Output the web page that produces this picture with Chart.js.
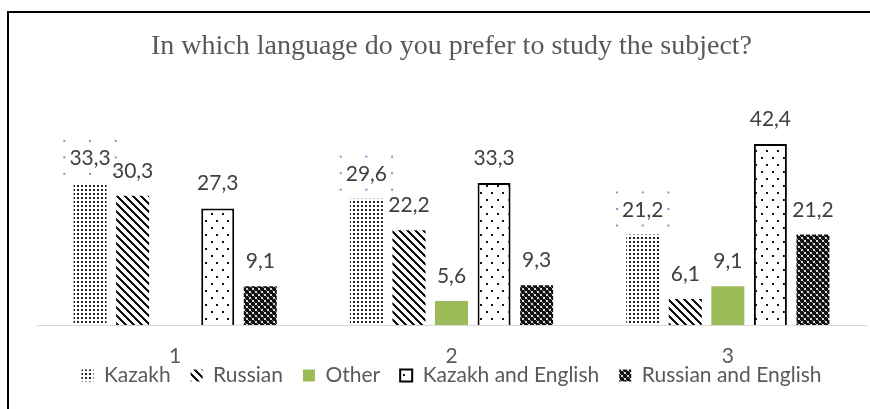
<!DOCTYPE html>
<html>
<head>
<meta charset="utf-8">
<script src="https://cdn.jsdelivr.net/npm/chart.js@4.4.1/dist/chart.umd.min.js"></script>
<style>
  html, body { margin: 0; padding: 0; background: #fff; }
</style>
</head>
<body>
<canvas id="chart" width="870" height="409"></canvas>
<script>
const groups = ['1', '2', '3'];
const kazakh = [33.3, 29.6, 21.2];
const russian = [30.3, 22.2, 6.1];
const other = [null, 5.6, 9.1];
const kazakhEnglish = [27.3, 33.3, 42.4];
const russianEnglish = [9.1, 9.3, 21.2];
const seriesNames = ['Kazakh', 'Russian', 'Other', 'Kazakh and English', 'Russian and English'];

// little tiles for the Excel-like fills
function makePattern(w, h, paint) {
    const c = document.createElement('canvas');
    c.width = w;
    c.height = h;
    const g = c.getContext('2d');
    paint(g, w, h);
    return g.createPattern(c, 'repeat');
}

const dotFill = makePattern(4, 4, (g) => {
    g.fillStyle = '#fff';
    g.fillRect(0, 0, 4, 4);
    g.fillStyle = '#222';
    g.fillRect(1, 1, 2, 2);
});

const stripeFill = makePattern(8, 8, (g) => {
    g.fillStyle = '#fff';
    g.fillRect(0, 0, 8, 8);
    g.fillStyle = '#111';
    for (let x = 0; x < 8; x++) {
        for (let y = 0; y < 8; y++) {
            if ((((x - y) % 8) + 8) % 8 < 3) g.fillRect(x, y, 1, 1);
        }
    }
});

const sparseDots = makePattern(11, 14, (g) => {
    g.fillStyle = '#fff';
    g.fillRect(0, 0, 11, 14);
    g.fillStyle = '#111';
    g.fillRect(2, 3, 2, 2);
    g.fillRect(7, 10, 2, 2);
});

const darkCheck = makePattern(6, 6, (g) => {
    g.fillStyle = '#111';
    g.fillRect(0, 0, 6, 6);
    g.fillStyle = '#d8d8d8';
    g.fillRect(0, 0, 2, 2);
    g.fillRect(3, 3, 2, 2);
    g.fillStyle = '#888';
    g.fillRect(2, 2, 1, 1);
    g.fillRect(5, 5, 1, 1);
});

const frame = {
    id: 'frame',
    beforeDraw(chart) {
        const ctx = chart.ctx;
        ctx.save();
        ctx.fillStyle = '#fff';
        ctx.fillRect(0, 0, chart.width, chart.height);
        ctx.restore();
    },
    afterDraw(chart) {
        const ctx = chart.ctx;
        ctx.save();
        ctx.fillStyle = '#000';
        ctx.fillRect(7, 11, 2, chart.height - 11);
        ctx.fillRect(7, 11, chart.width - 7, 2);
        ctx.restore();
    }
};

// category names sit lower than the axis box, overlapping the legend row
const groupLabels = {
    id: 'groupLabels',
    afterDraw(chart) {
        const ctx = chart.ctx;
        const xs = chart.scales.x;
        ctx.save();
        ctx.font = '21px Lato';
        ctx.fillStyle = '#595959';
        ctx.textAlign = 'center';
        ctx.textBaseline = 'middle';
        groups.forEach((g, i) => {
            ctx.fillText(g, xs.getPixelForValue(i), xs.top + 31);
        });
        ctx.restore();
    }
};

const valueLabels = {
    id: 'valueLabels',
    afterDatasetsDraw(chart) {
        const ctx = chart.ctx;
        ctx.save();
        ctx.font = '21px Lato';
        ctx.textAlign = 'center';
        ctx.textBaseline = 'alphabetic';
        chart.data.datasets.forEach((ds, i) => {
            const meta = chart.getDatasetMeta(i);
            meta.data.forEach((bar, j) => {
                const v = ds.data[j];
                if (v === null) return;
                const txt = v.toFixed(1).replace('.', ',');
                const y = bar.y - 18;
                ctx.fillStyle = '#404040';
                ctx.fillText(txt, bar.x, y);
                if (i === 0) {
                    // selection handles left around the Kazakh labels
                    ctx.fillStyle = '#6f9fd8';
                    const w = ctx.measureText(txt).width;
                    const l = bar.x - w / 2 - 5, r = bar.x + w / 2 + 5;
                    const t = y - 24, b = y + 9;
                    [[l, t], [bar.x, t], [r, t], [l, (t + b) / 2], [r, (t + b) / 2], [l, b], [bar.x, b], [r, b]]
                        .forEach(p => ctx.fillRect(p[0] - 1, p[1] - 1, 2, 2));
                }
            });
        });
        ctx.restore();
    }
};

new Chart(document.getElementById('chart'), {
    type: 'bar',
    data: {
        labels: groups,
        datasets: [
            { label: seriesNames[0], data: kazakh, backgroundColor: dotFill, borderWidth: 0 },
            { label: seriesNames[1], data: russian, backgroundColor: stripeFill, borderWidth: 0 },
            { label: seriesNames[2], data: other, backgroundColor: '#9bbb59', borderWidth: 0 },
            { label: seriesNames[3], data: kazakhEnglish, backgroundColor: sparseDots, borderColor: '#000', borderWidth: 2 },
            { label: seriesNames[4], data: russianEnglish, backgroundColor: darkCheck, borderWidth: 0 }
        ]
    },
    options: {
        responsive: false,
        animation: false,
        categoryPercentage: 0.77,
        barPercentage: 0.775,
        layout: {
            padding: { left: 37, right: 4, top: 0, bottom: 13 }
        },
        scales: {
            x: {
                grid: { display: false, drawTicks: false },
                border: { display: true, color: '#d9d9d9', width: 1 },
                ticks: { display: false },
                afterFit(scale) {
                    scale.height = 20;
                }
            },
            y: {
                display: false,
                min: 0,
                max: 50
            }
        },
        plugins: {
            title: {
                display: true,
                text: 'In which language do you prefer to study the subject?',
                color: '#595959',
                font: { family: 'Liberation Serif', size: 28, weight: 'normal' },
                padding: { top: 30, bottom: 48 }
            },
            legend: {
                position: 'bottom',
                labels: {
                    color: '#595959',
                    font: { family: 'Lato', size: 21 },
                    boxWidth: 12,
                    boxHeight: 12,
                    padding: 20
                }
            },
            tooltip: { enabled: false }
        }
    },
    plugins: [frame, groupLabels, valueLabels]
});
</script>
</body>
</html>
